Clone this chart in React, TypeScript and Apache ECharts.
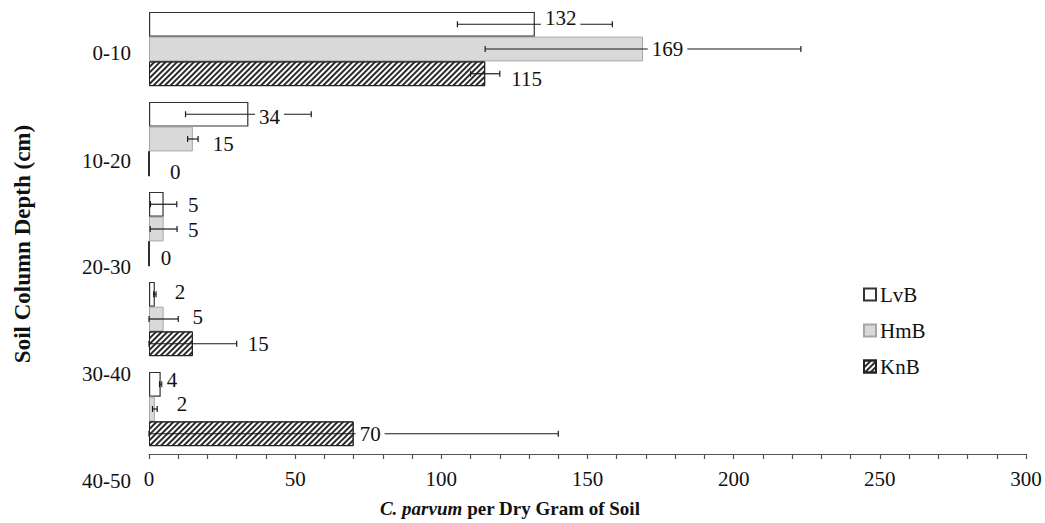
import React, { useEffect, useRef } from "react";
import * as echarts from "echarts";

const categories = ["0-10", "10-20", "20-30", "30-40", "40-50"];
const seriesNames = ["LvB", "HmB", "KnB"];
const lvbValues = [132, 34, 5, 2, 4];
const hmbValues = [169, 15, 5, 5, 2];
const knbValues = [115, 0, 0, 15, 70];
const lvbErrors = [26.5, 21.5, 4.5, 0.4, 0.4];
const hmbErrors = [54, 1.8, 4.6, 5, 0.8];
const knbErrors = [5, 0, 0, 15, 70];
const xMin = 0;
const xMax = 300;
const xTickStep = 10;
const xLabelStep = 50;
const xTitleItalic = "C. parvum";
const xTitleRest = "per Dry Gram of Soil";
const yTitle = "Soil Column Depth (cm)";

// label nudges (dx from bar end to text start, dy from bar centre), in px
const labelNudges = [
  [[10, -6], [10.6, 3], [24.4, 1], [20, -2], [6, -4]],
  [[8.7, 0], [20, 5], [24.4, 1], [29, -2], [22, -5]],
  [[26, 5.5], [21, 8], [11.7, 4.5], [55, 0], [6, 0]],
];
// category label vertical positions (px), as laid out in the reference
const categoryLabelY = [53, 161, 267, 374, 481];

const FONT = "'Liberation Serif', 'Times New Roman', serif";
const FS = 21;
const GAP = 0.175;

export default function App() {
  const ref = useRef<HTMLDivElement>(null);
  useEffect(() => {
    if (!ref.current) return;
    const chart = echarts.init(ref.current, null, { renderer: "svg" });
    const values = [lvbValues, hmbValues, knbValues];
    const errors = [lvbErrors, hmbErrors, knbErrors];
    const styles = [
      { color: "#ffffff", borderColor: "#333333", borderWidth: 1.2 },
      { color: "#d9d9d9", borderColor: "#a6a6a6", borderWidth: 1 },
      {
        color: "#ffffff",
        borderColor: "#222222",
        borderWidth: 1,
        decal: {
          symbol: "rect",
          symbolSize: 1,
          dashArrayX: [1, 0],
          dashArrayY: [2, 2],
          rotation: -Math.PI / 4,
          color: "#2a2a2a",
        },
      },
    ];
    const barSeries = seriesNames.map((name, s) => ({
      name,
      type: "bar",
      barGap: "0%",
      barCategoryGap: GAP * 100 + "%",
      data: values[s],
      itemStyle: styles[s],
      z: 2,
    }));
    const errSeries = seriesNames.map((name, s) => ({
      type: "custom",
      name: name + "-err",
      z: 3,
      data: values[s].map((v, i) => [v, i]),
      encode: { x: 0, y: 1 },
      renderItem: (params: any, api: any) => {
        const i = params.dataIndex;
        const v = values[s][i];
        const e = errors[s][i];
        const c = api.coord([v, i]);
        const band = api.size([0, 1])[1];
        const bw = (band * (1 - GAP)) / 3;
        const y = c[1] + (s - 1) * bw;
        const xl = api.coord([Math.max(0, v - e), i])[0];
        const xr = api.coord([v + e, i])[0];
        const lineStyle = { stroke: "#1a1a1a", lineWidth: 1.2 };
        const children: any[] = [];
        if (e > 0) {
          children.push(
            { type: "line", shape: { x1: xl, y1: y, x2: xr, y2: y }, style: lineStyle, z2: 1 },
            { type: "line", shape: { x1: xl, y1: y - 3, x2: xl, y2: y + 3 }, style: lineStyle, z2: 1 },
            { type: "line", shape: { x1: xr, y1: y - 3, x2: xr, y2: y + 3 }, style: lineStyle, z2: 1 }
          );
        }
        const [dx, dy] = labelNudges[s][i];
        children.push({
          type: "text",
          z2: 5,
          style: {
            text: String(v),
            x: c[0] + dx - 4,
            y: y + dy,
            align: "left",
            verticalAlign: "middle",
            fill: "#111111",
            font: `${FS}px ${FONT}`,
            backgroundColor: "#ffffff",
            padding: [0, 4, 0, 4],
          },
        });
        return { type: "group", children };
      },
    }));

    const option: any = {
      animation: false,
      backgroundColor: "#ffffff",
      textStyle: { fontFamily: FONT },
      grid: { left: 149, right: 19, top: 4, bottom: 69, containLabel: false },
      legend: {
        data: seriesNames,
        orient: "vertical",
        left: 858,
        top: 279,
        itemWidth: 12,
        itemHeight: 12,
        itemGap: 15,
        icon: "rect",
        textStyle: { fontFamily: FONT, fontSize: FS, color: "#111111", padding: [0, 0, 0, -1] },
      },
      xAxis: {
        type: "value",
        min: xMin,
        max: xMax,
        interval: xTickStep,
        splitLine: { show: false },
        axisLine: { show: true, lineStyle: { color: "#555555", width: 1.2 } },
        axisTick: { show: true, length: 5, lineStyle: { color: "#555555", width: 1.2 } },
        axisLabel: {
          fontFamily: FONT,
          fontSize: FS,
          color: "#111111",
          margin: 14,
          formatter: (v: number) => (v % xLabelStep === 0 ? String(v) : ""),
        },
      },
      yAxis: {
        type: "category",
        data: categories,
        inverse: true,
        axisLine: { show: false },
        axisTick: { show: false },
        axisLabel: { show: false },
      },
      graphic: [
        ...categories.map((cat, i) => ({
          type: "text",
          x: 131,
          y: categoryLabelY[i],
          style: {
            text: cat,
            x: 0,
            y: 0,
            align: "right",
            verticalAlign: "middle",
            fill: "#111111",
            font: `${FS}px ${FONT}`,
          },
        })),
        {
          type: "text",
          x: 22,
          y: 244,
          rotation: Math.PI / 2,
          style: {
            text: yTitle,
            x: 0,
            y: 0,
            align: "center",
            verticalAlign: "middle",
            fill: "#111111",
            font: `bold 23px ${FONT}`,
          },
        },
        {
          type: "text",
          x: 510,
          y: 508,
          style: {
            text: `{i|${xTitleItalic}} {b|${xTitleRest}}`,
            x: 0,
            y: 0,
            align: "center",
            verticalAlign: "middle",
            fill: "#111111",
            font: `bold 19px ${FONT}`,
            rich: {
              i: { fontStyle: "italic", fontWeight: "bold", fontSize: 19, fontFamily: FONT, fill: "#111111" },
              b: { fontWeight: "bold", fontSize: 19, fontFamily: FONT, fill: "#111111" },
            },
          },
        },
      ],
      series: [...barSeries, ...errSeries],
    };
    chart.setOption(option);
    return () => chart.dispose();
  }, []);
  return (
    <div
      ref={ref}
      style={{ position: "absolute", left: 0, top: 0, width: 1045, height: 523, background: "#fff" }}
    />
  );
}
